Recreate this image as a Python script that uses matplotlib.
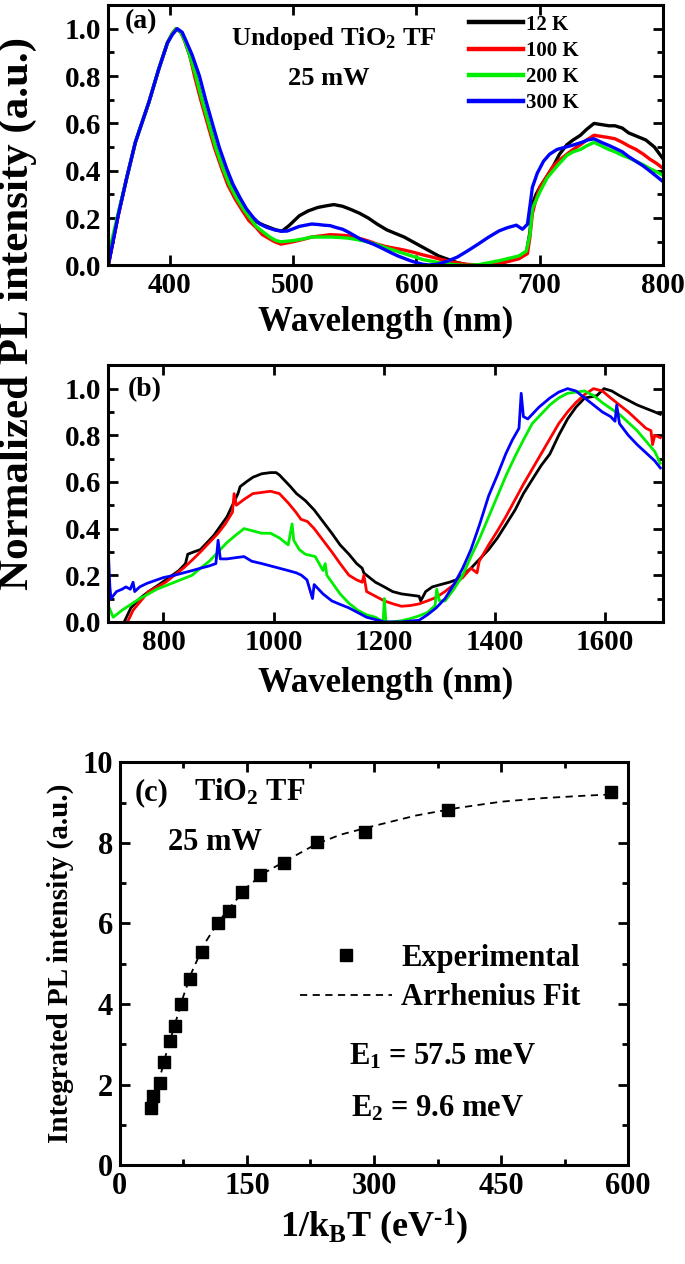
import matplotlib
matplotlib.use("Agg")
import matplotlib.pyplot as plt
from matplotlib.ticker import MultipleLocator, FormatStrFormatter

# ---------------- data: panel (a) ----------------
wl_a_12K = [350, 358, 365, 372, 383, 391, 398, 402, 405, 409, 412, 416, 421, 426, 432, 437, 443, 448, 454, 460,
            465, 470, 476, 481, 486, 491, 497, 505, 512, 520, 527, 533, 540, 547, 554, 561, 568, 576, 583, 590,
            597, 604, 611, 618, 626, 633, 640, 645, 660, 675, 689, 692, 694, 697, 700, 705, 711, 716, 722, 727,
            733, 738, 744, 750, 756, 761, 767, 772, 779, 786, 793, 800]
pl_a_12K = [0.0, 0.21, 0.37, 0.52, 0.69, 0.83, 0.94, 0.98, 1.0, 0.985, 0.95, 0.89, 0.80, 0.70, 0.59, 0.50,
            0.41, 0.35, 0.29, 0.245, 0.21, 0.185, 0.17, 0.16, 0.15, 0.145, 0.17, 0.21, 0.23, 0.245, 0.252, 0.257,
            0.25, 0.236, 0.22, 0.20, 0.175, 0.15, 0.135, 0.12, 0.10, 0.08, 0.06, 0.04, 0.025, 0.012, 0.004, 0.0,
            0.0, 0.02, 0.05, 0.14, 0.26, 0.30, 0.33, 0.37, 0.42, 0.47, 0.51, 0.53, 0.55, 0.575, 0.60, 0.595, 0.59,
            0.59, 0.58, 0.56, 0.545, 0.53, 0.50, 0.45]

wl_a_100K = [350, 358, 365, 372, 383, 391, 398, 402, 405, 409, 412, 416, 420, 425, 431, 436, 442, 447, 453, 459,
             464, 470, 475, 480, 485, 490, 500, 508, 515, 523, 530, 538, 545, 553, 560, 568, 575, 583, 590, 598,
             605, 613, 620, 630, 640, 656, 667, 683, 690, 692, 694, 697, 700, 705, 711, 716, 722, 727, 733, 738,
             744, 750, 756, 761, 767, 772, 778, 784, 789, 795, 800]
pl_a_100K = [0.0, 0.21, 0.37, 0.52, 0.69, 0.83, 0.94, 0.98, 1.0, 0.985, 0.95, 0.89, 0.80, 0.70, 0.59, 0.50, 0.41,
             0.34, 0.28, 0.23, 0.19, 0.16, 0.13, 0.115, 0.10, 0.09, 0.10, 0.11, 0.12, 0.125, 0.13, 0.128, 0.125,
             0.115, 0.105, 0.09, 0.08, 0.072, 0.065, 0.055, 0.045, 0.035, 0.025, 0.014, 0.005, 0.0, 0.007, 0.028,
             0.05, 0.12, 0.22, 0.28, 0.33, 0.37, 0.42, 0.445, 0.47, 0.49, 0.51, 0.53, 0.55, 0.545, 0.54, 0.535,
             0.52, 0.505, 0.49, 0.47, 0.45, 0.43, 0.41]

wl_a_200K = [350, 358, 365, 372, 383, 391, 398, 402, 405, 409, 412, 416, 421, 426, 432, 437, 443, 448, 454, 460,
             465, 470, 476, 481, 486, 490, 500, 508, 515, 523, 530, 538, 545, 553, 560, 568, 575, 583, 590, 598,
             605, 613, 620, 630, 640, 650, 667, 683, 689, 692, 694, 700, 706, 714, 722, 727, 733, 738, 744, 750,
             756, 761, 767, 772, 778, 784, 789, 795, 800]
pl_a_200K = [0.04, 0.22, 0.37, 0.52, 0.69, 0.83, 0.94, 0.98, 1.0, 0.985, 0.95, 0.89, 0.80, 0.70, 0.59, 0.50, 0.41,
             0.345, 0.285, 0.235, 0.20, 0.165, 0.14, 0.12, 0.105, 0.10, 0.105, 0.112, 0.12, 0.12, 0.12, 0.118, 0.115,
             0.108, 0.10, 0.088, 0.075, 0.062, 0.05, 0.037, 0.025, 0.017, 0.01, 0.004, 0.0, 0.003, 0.02, 0.04, 0.06,
             0.13, 0.24, 0.31, 0.37, 0.42, 0.465, 0.48, 0.49, 0.505, 0.52, 0.505, 0.49, 0.48, 0.465, 0.455, 0.44,
             0.425, 0.41, 0.395, 0.38]

wl_a_300K = [350, 358, 365, 372, 383, 391, 398, 402, 406, 410, 413, 418, 424, 429, 435, 440, 446, 451, 457, 462,
             468, 473, 479, 485, 490, 495, 500, 505, 510, 515, 520, 525, 530, 535, 540, 545, 550, 555, 560, 565,
             570, 575, 580, 585, 590, 595, 600, 605, 610, 617, 625, 633, 641, 650, 658, 667, 674, 681, 686, 690,
             692, 694, 698, 703, 708, 714, 721, 728, 734, 739, 744, 750, 756, 761, 767, 772, 778, 784, 789, 795, 800]
pl_a_300K = [0.0, 0.21, 0.37, 0.52, 0.69, 0.83, 0.94, 0.975, 1.0, 0.985, 0.95, 0.89, 0.80, 0.70, 0.59, 0.50, 0.41,
             0.345, 0.285, 0.24, 0.20, 0.175, 0.16, 0.15, 0.145, 0.145, 0.155, 0.165, 0.17, 0.175, 0.173, 0.17,
             0.168, 0.16, 0.153, 0.14, 0.125, 0.11, 0.10, 0.09, 0.078, 0.065, 0.052, 0.04, 0.03, 0.02, 0.012, 0.005,
             0.002, 0.005, 0.018, 0.035, 0.06, 0.09, 0.118, 0.146, 0.16, 0.17, 0.153, 0.174, 0.25, 0.33, 0.39, 0.44,
             0.47, 0.49, 0.50, 0.51, 0.52, 0.53, 0.535, 0.52, 0.507, 0.495, 0.48, 0.46, 0.44, 0.42, 0.40, 0.375,
             0.354]

# ---------------- data: panel (b) ----------------
wl_b_12K = [729, 741, 757, 773, 789, 804, 816, 828, 840, 844, 855, 867, 879, 891, 903, 915, 925, 935, 939, 950,
            962, 978, 994, 1004, 1010, 1018, 1030, 1041, 1057, 1073, 1089, 1105, 1120, 1136, 1150, 1160, 1163,
            1168, 1184, 1200, 1215, 1231, 1247, 1263, 1266, 1275, 1287, 1302, 1318, 1330, 1342, 1357, 1373, 1389,
            1405, 1421, 1437, 1452, 1468, 1484, 1500, 1516, 1532, 1547, 1563, 1575, 1585, 1598, 1612, 1626, 1642,
            1658, 1674, 1690, 1700]
pl_b_12K = [0.0, 0.06, 0.10, 0.13, 0.155, 0.18, 0.20, 0.22, 0.25, 0.29, 0.30, 0.31, 0.34, 0.37, 0.41, 0.45, 0.50,
            0.55, 0.58, 0.60, 0.62, 0.635, 0.64, 0.64, 0.63, 0.61, 0.58, 0.55, 0.52, 0.48, 0.43, 0.38, 0.33, 0.29,
            0.25, 0.23, 0.21, 0.20, 0.17, 0.15, 0.13, 0.12, 0.115, 0.11, 0.09, 0.13, 0.15, 0.16, 0.17, 0.18, 0.20,
            0.23, 0.27, 0.31, 0.36, 0.42, 0.48, 0.55, 0.61, 0.67, 0.72, 0.80, 0.87, 0.92, 0.96, 0.965, 0.97, 1.0,
            0.99, 0.97, 0.95, 0.93, 0.915, 0.90, 0.89]

wl_b_100K = [735, 745, 759, 773, 789, 804, 820, 836, 852, 867, 883, 899, 912, 925, 928, 932, 946, 962, 978, 994,
             1010, 1026, 1040, 1049, 1061, 1073, 1089, 1105, 1120, 1136, 1150, 1160, 1163, 1168, 1184, 1200, 1215,
             1231, 1247, 1263, 1278, 1294, 1310, 1326, 1342, 1357, 1368, 1372, 1389, 1405, 1420, 1436, 1452, 1468,
             1484, 1500, 1516, 1532, 1547, 1563, 1579, 1595, 1610, 1626, 1642, 1658, 1674, 1683, 1686, 1690, 1700]
pl_b_100K = [0.0, 0.05, 0.09, 0.13, 0.15, 0.17, 0.20, 0.23, 0.265, 0.30, 0.34, 0.38, 0.42, 0.47, 0.55, 0.50, 0.525,
             0.55, 0.555, 0.56, 0.55, 0.51, 0.47, 0.44, 0.43, 0.40, 0.35, 0.30, 0.25, 0.20, 0.18, 0.17, 0.20, 0.13,
             0.11, 0.09, 0.078, 0.067, 0.07, 0.077, 0.09, 0.105, 0.13, 0.16, 0.19, 0.23, 0.21, 0.26, 0.33, 0.39,
             0.45, 0.52, 0.59, 0.655, 0.72, 0.785, 0.85, 0.90, 0.94, 0.975, 1.0, 0.99, 0.96, 0.93, 0.90, 0.865,
             0.83, 0.82, 0.76, 0.80, 0.79]

wl_b_200K = [700, 709, 725, 741, 757, 773, 788, 804, 820, 836, 852, 867, 883, 899, 915, 930, 946, 962, 978, 994,
             1010, 1026, 1033, 1036, 1046, 1057, 1075, 1089, 1093, 1096, 1108, 1120, 1136, 1152, 1168, 1184, 1198,
             1200, 1203, 1215, 1231, 1247, 1262, 1278, 1292, 1295, 1300, 1310, 1326, 1342, 1357, 1373, 1389, 1405,
             1421, 1437, 1452, 1468, 1484, 1500, 1516, 1532, 1547, 1563, 1579, 1595, 1610, 1626, 1642, 1658, 1674,
             1690, 1700]
pl_b_200K = [0.07, 0.02, 0.05, 0.075, 0.10, 0.12, 0.14, 0.155, 0.17, 0.185, 0.20, 0.23, 0.26, 0.30, 0.34, 0.37,
             0.40, 0.39, 0.38, 0.38, 0.36, 0.33, 0.42, 0.35, 0.31, 0.29, 0.28, 0.22, 0.25, 0.20, 0.16, 0.12, 0.08,
             0.05, 0.03, 0.02, 0.0, 0.10, 0.0, 0.0, 0.005, 0.014, 0.025, 0.04, 0.07, 0.14, 0.09, 0.09, 0.14, 0.20,
             0.28, 0.36, 0.45, 0.54, 0.63, 0.71, 0.78, 0.85, 0.89, 0.93, 0.96, 0.98, 0.985, 0.99, 0.97, 0.94, 0.915,
             0.89, 0.855, 0.82, 0.775, 0.73, 0.68]

wl_b_300K = [700, 703, 705, 715, 725, 732, 740, 745, 748, 757, 770, 788, 800, 820, 836, 852, 867, 883, 895, 899,
             903, 915, 930, 946, 960, 978, 994, 1010, 1026, 1041, 1050, 1060, 1070, 1073, 1089, 1105, 1120, 1136,
             1152, 1168, 1184, 1200, 1231, 1263, 1278, 1294, 1310, 1326, 1342, 1357, 1373, 1389, 1405, 1420, 1432,
             1444, 1448, 1452, 1460, 1480, 1500, 1516, 1532, 1547, 1563, 1579, 1595, 1610, 1618, 1621, 1626, 1642,
             1658, 1674, 1690, 1700]
pl_b_300K = [0.31, 0.15, 0.10, 0.13, 0.14, 0.15, 0.14, 0.17, 0.13, 0.15, 0.165, 0.18, 0.19, 0.20, 0.21, 0.22,
             0.23, 0.24, 0.25, 0.35, 0.27, 0.27, 0.275, 0.28, 0.26, 0.25, 0.24, 0.23, 0.22, 0.21, 0.20, 0.18, 0.10,
             0.16, 0.12, 0.09, 0.075, 0.06, 0.04, 0.02, 0.01, 0.0, 0.0, 0.007, 0.03, 0.06, 0.10, 0.16, 0.23, 0.31,
             0.42, 0.54, 0.63, 0.72, 0.78, 0.83, 0.98, 0.88, 0.87, 0.92, 0.96, 0.985, 1.0, 0.99, 0.96, 0.93, 0.90,
             0.88, 0.86, 0.93, 0.85, 0.80, 0.76, 0.725, 0.69, 0.66]

# ---------------- data: panel (c) ----------------
inv_kT = [36.7, 39.4, 47.2, 52.5, 58.8, 64.6, 72.4, 82.4, 97.1, 115.5, 128.6, 144.4, 165.4, 194.2, 232.5, 289.2,
          386.9, 580.0]
int_pl = [1.43, 1.73, 2.05, 2.57, 3.08, 3.45, 4.0, 4.62, 5.29, 6.02, 6.30, 6.79, 7.19, 7.51, 8.03, 8.28, 8.82, 9.27]
fit_x = [37, 45, 55, 65, 75, 85, 100, 115, 130, 150, 170, 200, 230, 260, 300, 350, 400, 450, 500, 550, 580]
fit_y = [1.4, 2.0, 2.8, 3.5, 4.2, 4.8, 5.5, 6.0, 6.4, 6.9, 7.25, 7.6, 7.95, 8.2, 8.42, 8.68, 8.87, 9.02, 9.11,
         9.17, 9.2]

labels = ["12 K", "100 K", "200 K", "300 K"]
colors = ["#000000", "#ff0000", "#00ee00", "#0000ff"]

# ---------------- style ----------------
plt.rcParams['font.family'] = ['Liberation Serif', 'DejaVu Serif']
plt.rcParams['font.weight'] = 'bold'
plt.rcParams['mathtext.fontset'] = 'custom'
plt.rcParams['mathtext.rm'] = 'Liberation Serif:bold'
plt.rcParams['mathtext.it'] = 'Liberation Serif:bold'
plt.rcParams['mathtext.bf'] = 'Liberation Serif:bold'
plt.rcParams['axes.linewidth'] = 2.2


def style_axis(ax, size):
    ax.tick_params(which='both', direction='in', top=True, right=True, width=2.0, labelsize=size, pad=5)
    ax.tick_params(which='major', length=7)
    ax.tick_params(which='minor', length=4)
    for lab in ax.get_xticklabels() + ax.get_yticklabels():
        lab.set_fontweight('bold')


fig = plt.figure(figsize=(6.85, 12.64), dpi=100)

# panel (a)
axa = fig.add_axes([0.158, 0.790, 0.810, 0.206])
for x, y, c, lab in zip([wl_a_12K, wl_a_100K, wl_a_200K, wl_a_300K],
                        [pl_a_12K, pl_a_100K, pl_a_200K, pl_a_300K], colors, labels):
    axa.plot(x, y, color=c, lw=2.4, label=lab)
axa.set_xlim(350, 800)
axa.set_ylim(0, 1.1)
axa.xaxis.set_major_locator(MultipleLocator(100))
axa.yaxis.set_major_locator(MultipleLocator(0.2))
axa.yaxis.set_minor_locator(MultipleLocator(0.1))
axa.yaxis.set_major_formatter(FormatStrFormatter('%.1f'))
style_axis(axa, 21)
axa.set_xlabel("Wavelength (nm)", fontsize=25, fontweight='bold', labelpad=5)
axa.text(0.03, 0.985, "(a)", transform=axa.transAxes, fontsize=20, fontweight='bold', va='top', ha='left')
axa.text(533, 0.96, "Undoped TiO$_2$ TF", fontsize=19, fontweight='bold', ha='center', va='center')
axa.text(529, 0.79, "25 mW", fontsize=19, fontweight='bold', ha='center', va='center')
leg = axa.legend(loc='upper left', bbox_to_anchor=(0.635, 0.995), frameon=False, fontsize=15,
                 handlelength=2.6, handletextpad=0.15, labelspacing=0.3, borderaxespad=0.0)
for t in leg.get_texts():
    t.set_fontweight('bold')
for h in leg.get_lines():
    h.set_linewidth(3.2)

# panel (b)
axb = fig.add_axes([0.158, 0.508, 0.810, 0.203])
for x, y, c in zip([wl_b_12K, wl_b_100K, wl_b_200K, wl_b_300K],
                   [pl_b_12K, pl_b_100K, pl_b_200K, pl_b_300K], colors):
    axb.plot(x, y, color=c, lw=2.0)
axb.set_xlim(700, 1705)
axb.set_ylim(0, 1.1)
axb.xaxis.set_major_locator(MultipleLocator(200))
axb.yaxis.set_major_locator(MultipleLocator(0.2))
axb.yaxis.set_minor_locator(MultipleLocator(0.1))
axb.yaxis.set_major_formatter(FormatStrFormatter('%.1f'))
style_axis(axb, 21)
axb.set_xlabel("Wavelength (nm)", fontsize=25, fontweight='bold', labelpad=8)
axb.text(0.035, 0.955, "(b)", transform=axb.transAxes, fontsize=20, fontweight='bold', va='top', ha='left')

fig.text(0.026, 0.752, "Normalized PL intensity (a.u.)", rotation=90, fontsize=31, fontweight='bold',
         ha='center', va='center')

# panel (c)
axc = fig.add_axes([0.175, 0.078, 0.742, 0.319])
axc.plot(fit_x, fit_y, color='black', lw=1.3, ls=(0, (4, 3)), label="Arrhenius Fit")
axc.plot(inv_kT, int_pl, ls='none', marker='s', ms=8, color='black', label="Experimental")
axc.set_xlim(0, 600)
axc.set_ylim(0, 10)
axc.xaxis.set_major_locator(MultipleLocator(150))
axc.xaxis.set_minor_locator(MultipleLocator(75))
axc.yaxis.set_major_locator(MultipleLocator(2))
axc.yaxis.set_minor_locator(MultipleLocator(1))
style_axis(axc, 22)
axc.set_xlabel("1/k$_\\mathregular{B}$T (eV$^{\\text{-1}}$)", fontsize=26, fontweight='bold', labelpad=4)
axc.set_ylabel("Integrated PL intensity (a.u.)", fontsize=21, fontweight='bold', labelpad=6)
axc.text(0.03, 0.925, "(c)", transform=axc.transAxes, fontsize=22, fontweight='bold', va='center', ha='left')
axc.text(0.145, 0.925, "TiO$_2$ TF", transform=axc.transAxes, fontsize=22, fontweight='bold', va='center', ha='left')
axc.text(0.095, 0.8, "25 mW", transform=axc.transAxes, fontsize=22, fontweight='bold', va='center', ha='left')
axc.text(0.45, 0.27, "E$_1$ = 57.5 meV", transform=axc.transAxes, fontsize=22, fontweight='bold', va='center', ha='left')
axc.text(0.455, 0.14, "E$_2$ = 9.6 meV", transform=axc.transAxes, fontsize=22, fontweight='bold', va='center', ha='left')
handles, labs = axc.get_legend_handles_labels()
legc = axc.legend(handles[::-1], labs[::-1], loc='center right', bbox_to_anchor=(0.93, 0.465), frameon=False,
                  fontsize=22, handlelength=3.0, handletextpad=0.3, labelspacing=0.35, borderaxespad=0.0)
for t in legc.get_texts():
    t.set_fontweight('bold')

fig.savefig("out.png", dpi=100)
